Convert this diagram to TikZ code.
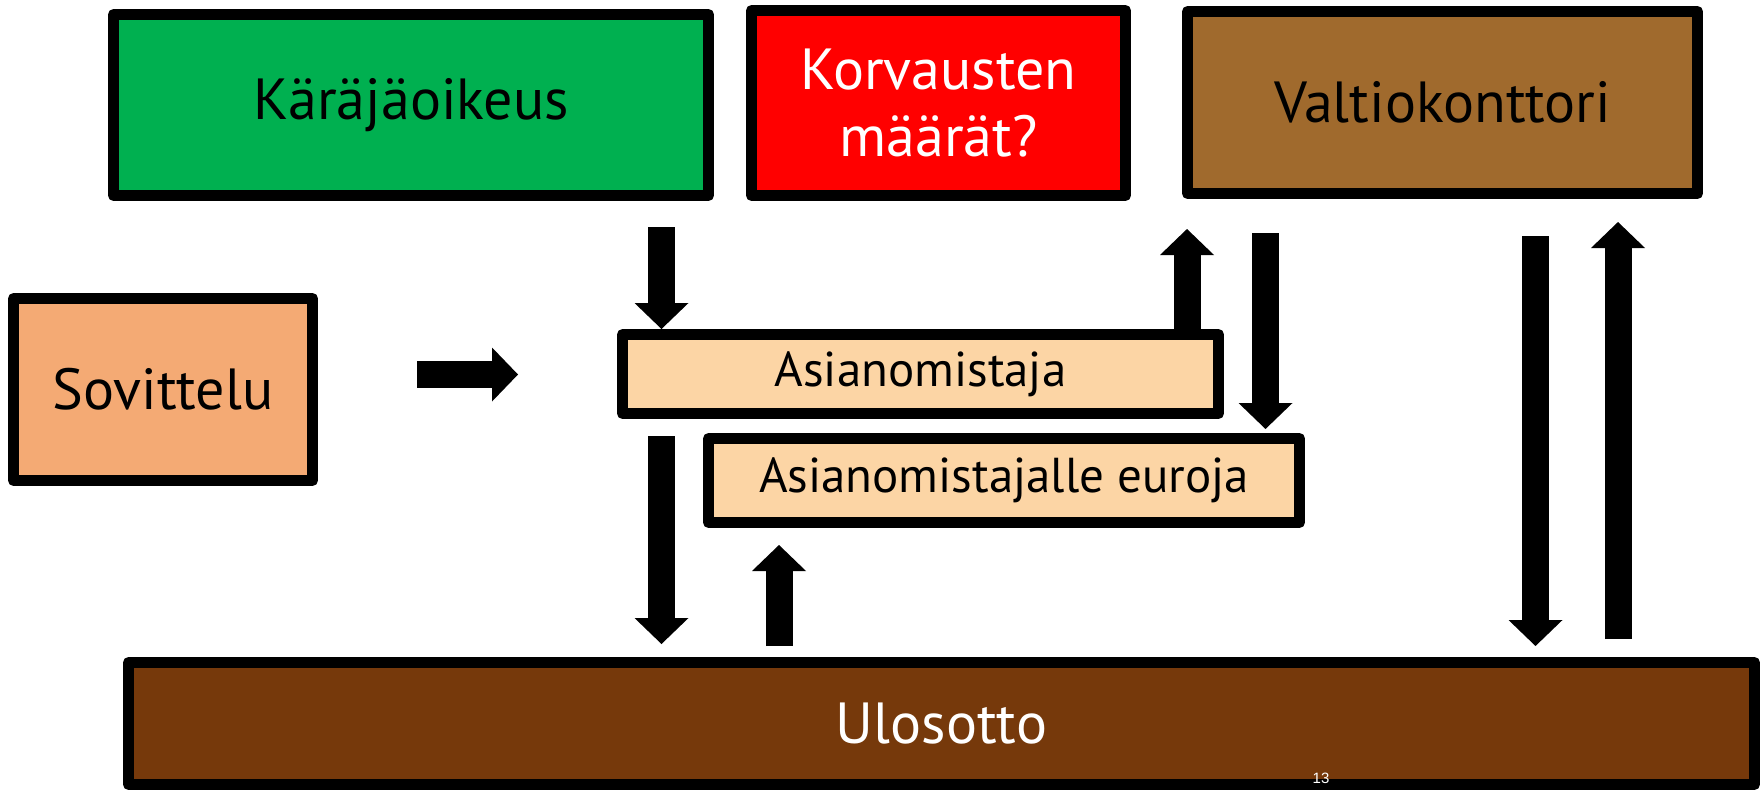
\documentclass[tikz,border=0pt]{standalone}
\usepackage{fontspec}
\setmainfont{PT Sans}
\newfontfamily\numfont{Liberation Sans}
\usetikzlibrary{arrows.meta}

\definecolor{karagreen}{HTML}{00B050}
\definecolor{korvred}{HTML}{FF0000}
\definecolor{valtiobrown}{HTML}{A06A2D}
\definecolor{sovpeach}{HTML}{F4AA74}
\definecolor{asianpeach}{HTML}{FCD5A5}
\definecolor{ulosbrown}{HTML}{76390B}

\tikzset{box/.style={
		draw=black, line width=11pt, line join=round,
		inner sep=0pt, align=center
	},
	big text/.style={font=\fontsize{58}{67}\selectfont},
	small text/.style={font=\fontsize{49}{58}\selectfont},
	fat arrow/.style={
		line width=27pt,
		-{Triangle[width=54pt,length=26pt,line width=0pt]}
	}
}

\begin{document}
\begin{tikzpicture}[x=1pt, y=-1pt]
		\useasboundingbox (0,0) rectangle (1761,790);
		% ylarivi
		\node [box, big text, fill=karagreen, minimum width=595pt, minimum height=181pt] (kara) at (411,105) {Käräjäoikeus};
		\node [box, big text, fill=korvred, text=white, minimum width=374pt, minimum height=185pt] (korv) at (938.5,103) {Korvausten\\määrät?};
		\node [box, big text, fill=valtiobrown, minimum width=510pt, minimum height=182pt] (valtio) at (1442.5,102.5) {Valtiokonttori};
		% keskirivi
		\node [box, big text, fill=sovpeach, minimum width=299pt, minimum height=182pt] (sov) at (163,389.5) {Sovittelu};
		\node [box, small text, fill=asianpeach, minimum width=596pt, minimum height=79pt] (asian) at (920.5,374) {Asianomistaja};
		\node [box, small text, fill=asianpeach, minimum width=591pt, minimum height=84pt] (euro) at (1004,480.5) {Asianomistajalle euroja};
		% alarivi
		\node [box, big text, fill=ulosbrown, text=white, minimum width=1626pt, minimum height=122pt] (ulos) at (941.5,723.5) {Ulosotto};
		\node [text=white, inner sep=0pt, font=\numfont\fontsize{15}{15}\selectfont] (sivu) at (1321,778.5) {13};
		% nuolet
		\coordinate (k1) at (661.5,227);
		\coordinate (s1) at (417,374.5);
		\coordinate (s2) at (518,374.5);
		\coordinate (v1) at (1187,229);
		\coordinate (v2) at (1265.5,233);
		\coordinate (v3) at (1265.5,429);
		\coordinate (u1) at (661.5,436);
		\coordinate (u2) at (661.5,644);
		\coordinate (u3) at (779,646);
		\coordinate (u4) at (779,545);
		\coordinate (r1) at (1535.5,236);
		\coordinate (r2) at (1535.5,646);
		\coordinate (r3) at (1618,639);
		\coordinate (r4) at (1618,222);
		\draw [fat arrow] (k1) -- (k1 |- asian.north);
		\draw [fat arrow] (v1 |- asian.north) -- (v1);
		\foreach \a/\b in {s1/s2, v2/v3, u1/u2, u3/u4, r1/r2, r3/r4}
			\draw [fat arrow] (\a) -- (\b);
	\end{tikzpicture}
\end{document}
